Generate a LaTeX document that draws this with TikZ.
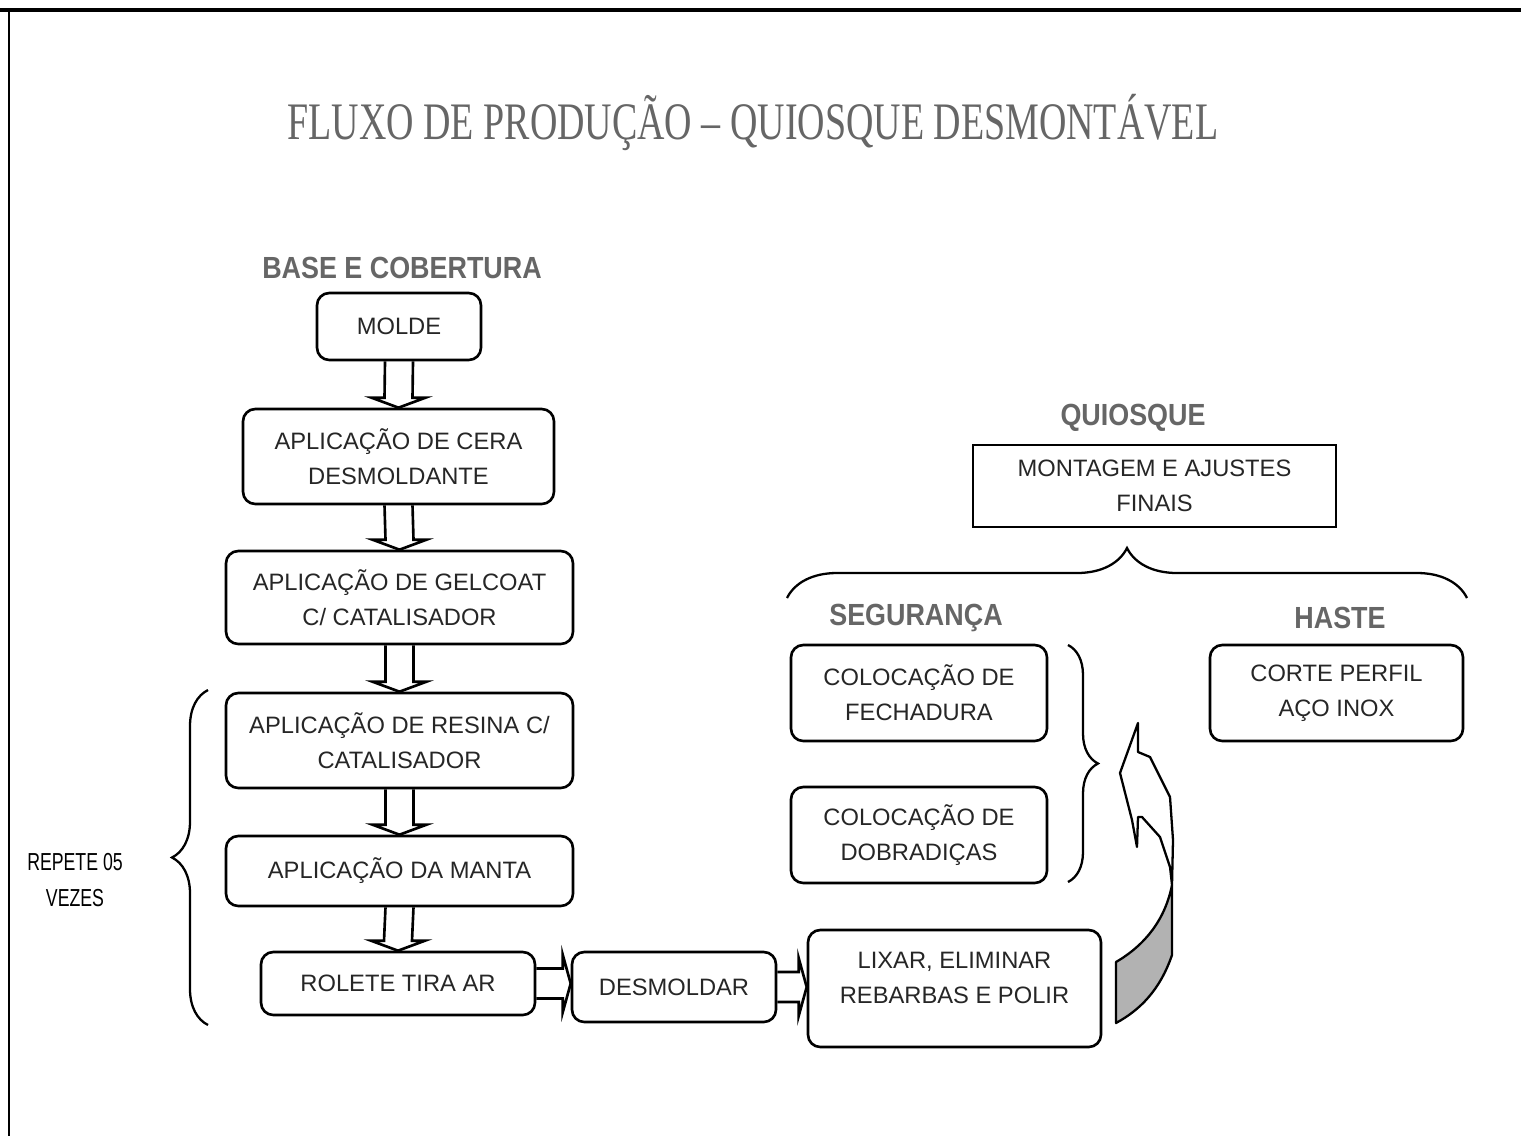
\documentclass[tikz,border=0pt]{standalone}
\usepackage{fontspec}
\setmainfont{Liberation Sans}
\newfontfamily\titulofont[FakeStretch=0.72]{Liberation Serif}
\newfontfamily\rotulofont[FakeStretch=0.88]{Liberation Sans}
\newfontfamily\repetefont[FakeStretch=0.72]{Liberation Sans}
\usetikzlibrary{calc,decorations.pathreplacing}

\begin{document}
\begin{tikzpicture}[x=0.02cm,y=-0.02cm,
	caixa/.style={draw, line width=1.5pt, rounded corners=7pt, fill=white, align=center, inner sep=0pt, text=black!85, font=\fontsize{13.5}{20}\selectfont},
	tam/.style 2 args={minimum width=#1*0.02cm, minimum height=#2*0.02cm},
	rotulo/.style={text=black!60, font=\rotulofont\bfseries\fontsize{17.4}{20}\selectfont},
	seta/.style={line width=1.5pt, line join=miter},
	chave/.style={decorate, decoration={brace, amplitude=#1}, line width=1.3pt}]
	\useasboundingbox (0,0) rectangle (1521,1136);
	% moldura
	\draw[line width=2.2pt] (0,10) -- (1521,10);
	\draw[line width=1.2pt] (9,10) -- (9,1136);
	% setas em bloco
	\def\setav#1#2{\draw[seta] ($(#1.south)+(-14,0)$) -- ($(#2.north)+(-14,-10)$) -- ++(-13,0) -- (#2.north) -- ($(#2.north)+(27,-10)$) -- ++(-13,0) -- ($(#1.south)+(14,0)$);}
	\def\setah#1#2{\coordinate (p) at (#1.east); \coordinate (q) at (#1.east -| #2.west);
		\draw[seta] ($(p)+(0,-15)$) -- ($(q)+(-8,-15)$) -- ++(0,-14) -- (q) -- ($(q)+(-8,29)$) -- ++(0,-14) -- ($(p)+(0,15)$);}
	
	\node[text=black!60, font=\titulofont\fontsize{30}{34}\selectfont] (titulo) at (753,122) {FLUXO DE PRODUÇÃO – QUIOSQUE DESMONTÁVEL};
	
	% base e cobertura
	\node[rotulo] (base) at (402,268) {BASE E COBERTURA};
	\node[caixa, tam={164}{67}] (molde) at (399,326.5) {MOLDE};
	\node[caixa, tam={311}{95}] (cera) at (398.5,456.5) {APLICAÇÃO DE CERA\\DESMOLDANTE};
	\node[caixa, tam={347}{93}] (gelcoat) at (399.5,597.5) {APLICAÇÃO DE GELCOAT\\C/ CATALISADOR};
	\node[caixa, tam={347}{95}] (resina) at (399.5,740.5) {APLICAÇÃO DE RESINA C/\\CATALISADOR};
	\node[caixa, tam={347}{70}] (manta) at (399.5,871) {APLICAÇÃO DA MANTA};
	\node[caixa, tam={274}{63}] (rolete) at (398,983.5) {ROLETE TIRA AR};
	\node[caixa, tam={204}{70}] (desmoldar) at (674,987) {DESMOLDAR};
	\node[caixa, tam={293}{117}, text depth=12pt] (lixar) at (954.5,988.5) {LIXAR, ELIMINAR\\REBARBAS E POLIR};
	\setav{molde}{cera}
	\setav{cera}{gelcoat}
	\setav{gelcoat}{resina}
	\setav{resina}{manta}
	\setav{manta}{rolete}
	\setah{rolete}{desmoldar}
	\setah{desmoldar}{lixar}
	\draw[chave=0.72cm] (208,1025) -- (208,690);
	\node[font=\repetefont\fontsize{14}{20}\selectfont, align=center] (repete) at (75,880) {REPETE 05\\VEZES};
	
	% quiosque
	\node[rotulo] (quiosque) at (1133,418) {QUIOSQUE};
	\node[caixa, rounded corners=0pt, tam={363}{82}, text depth=0pt] (montagem) at (1154.5,486) {MONTAGEM E AJUSTES\\FINAIS};
	\draw[chave=1cm] (787,598) -- (1467,598);
	\node[rotulo] (seguranca) at (916,618) {SEGURANÇA};
	\node[rotulo] (haste) at (1340,618) {HASTE};
	\node[caixa, tam={256}{96}] (fechadura) at (919,693) {COLOCAÇÃO DE\\FECHADURA};
	\node[caixa, tam={256}{96}] (dobradicas) at (919,835) {COLOCAÇÃO DE\\DOBRADIÇAS};
	\node[caixa, tam={253}{96}] (corte) at (1336.5,693) {CORTE PERFIL\\AÇO INOX};
	\draw[chave=0.6cm] (1068,645) -- (1068,882);
	
	% seta curva
	\filldraw[fill=black!30, line width=1.3pt, line join=round] (1116,962) .. controls (1145,945) and (1165,920) .. (1172,885) -- (1172,955) .. controls (1160,990) and (1140,1010) .. (1116,1023) -- cycle;
	\filldraw[fill=white, line width=1.3pt, line join=round] (1172,885) -- (1173,840) -- (1170,797) -- (1160,777) -- (1150,757) -- (1138,752) -- (1138,723) -- (1120,773) -- (1132,820) -- (1137,847) -- (1138,817) -- (1142,817) -- (1160,837) -- (1170,867) -- cycle;
\end{tikzpicture}
\end{document}
